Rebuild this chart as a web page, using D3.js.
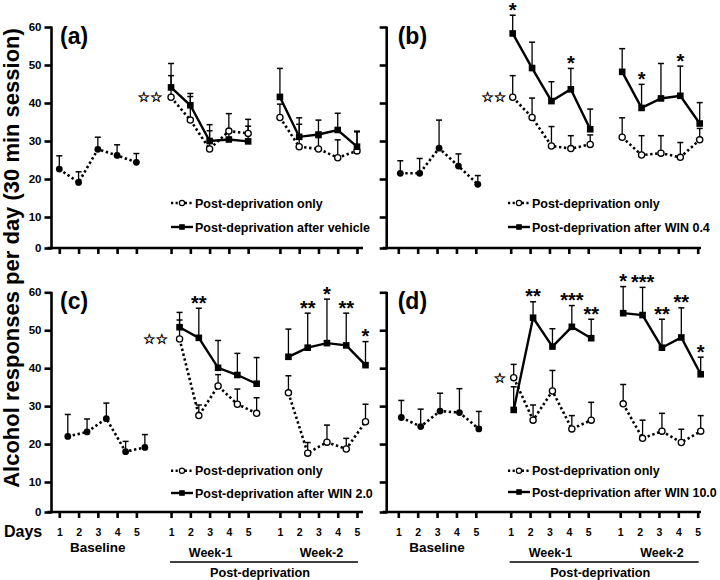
<!DOCTYPE html>
<html><head><meta charset="utf-8">
<script src="https://cdn.jsdelivr.net/npm/d3@7"></script>
<style>
body{margin:0;background:#fff}
svg{display:block}
text{font-family:"Liberation Sans",Arial,Helvetica,sans-serif;font-weight:bold;fill:#000}
</style>
</head><body>
<svg id="chart" width="720" height="580"></svg>
<script>
// ---------------- DATA ----------------
const days = [1, 2, 3, 4, 5];
const yTicks = [0, 10, 20, 30, 40, 50, 60];
const panelLabels = ["(a)", "(b)", "(c)", "(d)"];
const legendOnly = "Post-deprivation only";
const legendTreat = ["Post-deprivation after vehicle", "Post-deprivation after WIN 0.4",
                     "Post-deprivation after WIN 2.0", "Post-deprivation after WIN 10.0"];
const yTitle = "Alcohol responses per day (30 min session)";
const groupNames = ["Baseline", "Week-1", "Week-2"];
const periodName = "Post-deprivation";
const daysLabel = "Days";
const deprivationMarks = ["☆☆", "☆☆", "☆☆", "☆"];

// (a) vehicle
const baseA     = [22.6, 19.1, 27.8, 26.2, 24.4];
const baseAErr  = [3.5, 2.8, 3.2, 2.8, 2.3];
const onlyA1    = [41.5, 35.5, 27.9, 32.6, 32.0];
const onlyA1Err = [5.7, 6.2, 4.8, 4.6, 3.7];
const treatA1   = [44.1, 39.4, 30.0, 30.4, 29.9];
const treatA1Err= [6.3, 3.1, 4.3, 1.9, 4.0];
const onlyA2    = [36.2, 28.5, 27.9, 25.6, 27.4];
const onlyA2Err = [3.5, 5.9, 3.0, 4.7, 5.0];
const treatA2   = [41.6, 31.1, 31.7, 32.9, 28.5];
const treatA2Err= [7.5, 5.0, 3.8, 4.4, 4.1];
const sigA1 = ["", "", "", "", ""];
const sigA2 = ["", "", "", "", ""];

// (b) WIN 0.4
const baseB     = [21.5, 21.5, 28.1, 23.4, 18.6];
const baseBErr  = [3.3, 3.9, 7.4, 3.2, 2.3];
const onlyB1    = [41.5, 36.2, 28.7, 28.0, 29.1];
const onlyB1Err = [5.7, 5.1, 5.1, 3.4, 2.5];
const treatB1   = [58.3, 49.2, 40.5, 43.6, 33.1];
const treatB1Err= [4.8, 6.8, 5.1, 5.5, 5.3];
const onlyB2    = [31.0, 26.3, 26.8, 25.7, 30.3];
const onlyB2Err = [5.1, 5.1, 4.6, 3.9, 3.0];
const treatB2   = [48.2, 38.7, 41.2, 41.9, 34.6];
const treatB2Err= [6.1, 6.2, 9.2, 7.8, 5.5];
const sigB1 = ["*", "", "", "*", ""];
const sigB2 = ["", "*", "", "*", ""];

// (c) WIN 2.0
const baseC     = [22.0, 23.2, 26.7, 18.0, 19.1];
const baseCErr  = [5.8, 3.4, 4.1, 2.7, 3.4];
const onlyC1    = [47.7, 27.5, 35.3, 30.5, 28.1];
const onlyC1Err = [5.0, 2.8, 3.0, 4.0, 4.1];
const treatC1   = [50.8, 48.0, 40.1, 38.2, 35.9];
const treatC1Err= [3.9, 7.8, 7.2, 5.7, 6.9];
const onlyC2    = [33.5, 17.6, 20.5, 18.7, 25.9];
const onlyC2Err = [4.5, 2.8, 4.5, 2.8, 4.6];
const treatC2   = [43.0, 45.4, 46.6, 46.0, 40.8];
const treatC2Err= [7.3, 9.1, 11.6, 8.5, 6.2];
const sigC1 = ["", "**", "", "", ""];
const sigC2 = ["", "**", "*", "**", "*"];

// (d) WIN 10.0
const baseD     = [27.0, 24.6, 28.7, 28.3, 24.0];
const baseDErr  = [4.5, 4.6, 4.7, 6.3, 4.6];
const onlyD1    = [37.5, 26.3, 34.0, 24.0, 26.3];
const onlyD1Err = [3.5, 4.0, 5.4, 3.5, 4.7];
const treatD1   = [29.0, 53.3, 45.7, 50.9, 47.9];
const treatD1Err= [6.1, 4.2, 4.7, 5.6, 5.0];
const onlyD2    = [30.6, 21.5, 23.4, 20.4, 23.4];
const onlyD2Err = [5.1, 4.8, 4.7, 3.5, 4.1];
const treatD2   = [54.5, 54.0, 45.4, 48.1, 38.4];
const treatD2Err= [7.0, 7.3, 7.5, 7.8, 4.5];
const sigD1 = ["", "**", "", "***", "**"];
const sigD2 = ["*", "***", "**", "**", "*"];

// -------------- PANELS (built from arrays) --------------
const panelData = [
  {base: baseA, baseErr: baseAErr, only: [onlyA1, onlyA2], onlyErr: [onlyA1Err, onlyA2Err],
   treat: [treatA1, treatA2], treatErr: [treatA1Err, treatA2Err], sig: [sigA1, sigA2]},
  {base: baseB, baseErr: baseBErr, only: [onlyB1, onlyB2], onlyErr: [onlyB1Err, onlyB2Err],
   treat: [treatB1, treatB2], treatErr: [treatB1Err, treatB2Err], sig: [sigB1, sigB2]},
  {base: baseC, baseErr: baseCErr, only: [onlyC1, onlyC2], onlyErr: [onlyC1Err, onlyC2Err],
   treat: [treatC1, treatC2], treatErr: [treatC1Err, treatC2Err], sig: [sigC1, sigC2]},
  {base: baseD, baseErr: baseDErr, only: [onlyD1, onlyD2], onlyErr: [onlyD1Err, onlyD2Err],
   treat: [treatD1, treatD2], treatErr: [treatD1Err, treatD2Err], sig: [sigD1, sigD2]}
];

// -------------- LAYOUT --------------
const layouts = [
  {ax: 51.5, x0: 59.3, x1: 357, xEnd: 363, axisY: 248, y10: 217, y60: 27, off: 0,  yLab: true,  xLab: false, legX: 171, legY: [203, 227], starDx: -21},
  {ax: 386.7, x0: 398.3, x1: 697.7, xEnd: 701, axisY: 248, y10: 217, y60: 27, off: 2, yLab: false, xLab: false, legX: 508, legY: [203, 227], starDx: -19},
  {ax: 51.5, x0: 59.3, x1: 357, xEnd: 363, axisY: 512, y10: 482, y60: 292.3, off: 8.5, yLab: true, xLab: true, legX: 171, legY: [470.7, 493], starDx: -24},
  {ax: 386.7, x0: 398.3, x1: 697.7, xEnd: 701, axisY: 512, y10: 482, y60: 292.3, off: 3, yLab: false, xLab: true, legX: 508, legY: [470.7, 492], starDx: -14}
];
const groupStart = [0, 5.8, 11.45];
const slotMax = 15.45;

const svg = d3.select("#chart");
const AXW = 2.6;

function drawPanel(pi) {
  const P = panelData[pi], L = layouts[pi];
  const g = svg.append("g");
  const x = d3.scaleLinear().domain([0, slotMax]).range([L.x0, L.x1]);
  const y = d3.scaleLinear().domain([0, 10, 60]).range([L.axisY, L.y10, L.y60]);
  const px = (gi, i) => x(groupStart[gi] + i) + L.off;

  // Y axis
  const yAxis = d3.axisLeft(y).tickValues(yTicks).tickSize(7).tickSizeOuter(0).tickPadding(3)
    .tickFormat(L.yLab ? d3.format("d") : () => "");
  const ya = g.append("g").attr("transform", `translate(${L.ax},0)`).call(yAxis);
  ya.select(".domain").attr("stroke", "#000").attr("stroke-width", AXW).attr("d", `M0,${L.axisY + AXW/2}V${L.y60 - 0.5}`);
  ya.selectAll(".tick line").attr("stroke", "#000").attr("stroke-width", AXW);
  ya.selectAll(".tick text").attr("font-size", 11.5).attr("font-family", '"Liberation Sans",Arial,sans-serif').attr("font-weight", "bold");

  // X axis
  const slots = [];
  groupStart.forEach(s => days.forEach((d, i) => slots.push({v: s + i, d})));
  const xAxis = d3.axisBottom(x).tickValues(slots.map(s => s.v)).tickSize(6).tickSizeOuter(0).tickPadding(10.5)
    .tickFormat(L.xLab ? ((v, i) => slots[i].d) : () => "");
  const xa = g.append("g").attr("transform", `translate(0,${L.axisY})`).call(xAxis);
  xa.select(".domain").remove();
  xa.selectAll(".tick line").attr("stroke", "#000").attr("stroke-width", AXW);
  xa.selectAll(".tick text").attr("font-size", 10.5).attr("font-family", '"Liberation Sans",Arial,sans-serif').attr("font-weight", "bold");
  g.append("line").attr("x1", L.ax - 4).attr("x2", L.xEnd).attr("y1", L.axisY).attr("y2", L.axisY)
    .attr("stroke", "#000").attr("stroke-width", AXW);

  // series
  const series = [];
  series.push({type: "base", g: 0, vals: P.base, err: P.baseErr});
  [0, 1].forEach(k => {
    series.push({type: "only", g: k + 1, vals: P.only[k], err: P.onlyErr[k]});
    series.push({type: "treat", g: k + 1, vals: P.treat[k], err: P.treatErr[k], sig: P.sig[k]});
  });

  const capW = 3;
  // error bars
  series.forEach(s => {
    s.vals.forEach((v, i) => {
      const cx = px(s.g, i), top = y(v + s.err[i]);
      g.append("line").attr("x1", cx).attr("x2", cx).attr("y1", y(v)).attr("y2", top)
        .attr("stroke", "#000").attr("stroke-width", 1.3);
      g.append("line").attr("x1", cx - capW).attr("x2", cx + capW).attr("y1", top).attr("y2", top)
        .attr("stroke", "#000").attr("stroke-width", 1.5);
    });
  });
  // lines
  const line = d3.line().x(d => d[0]).y(d => d[1]);
  series.forEach(s => {
    const pts = s.vals.map((v, i) => [px(s.g, i), y(v)]);
    const path = g.append("path").attr("d", line(pts)).attr("fill", "none").attr("stroke", "#000");
    if (s.type === "treat") path.attr("stroke-width", 2.4);
    else path.attr("stroke-width", 2.6).attr("stroke-dasharray", "2.4,2.6");
  });
  // markers
  series.filter(s => s.type !== "treat").forEach(s => {
    s.vals.forEach((v, i) => {
      const c = g.append("circle").attr("cx", px(s.g, i)).attr("cy", y(v));
      if (s.type === "base") c.attr("r", 3.4).attr("fill", "#000");
      else c.attr("r", 3.1).attr("fill", "#fff").attr("stroke", "#000").attr("stroke-width", 1.3);
    });
  });
  series.filter(s => s.type === "treat").forEach(s => {
    s.vals.forEach((v, i) => {
      g.append("rect").attr("x", px(s.g, i) - 3.3).attr("y", y(v) - 3.3).attr("width", 6.6).attr("height", 6.6).attr("fill", "#000");
    });
    // significance asterisks
    s.sig.forEach((t, i) => {
      if (!t) return;
      g.append("text").attr("x", px(s.g, i)).attr("y", y(s.vals[i] + s.err[i]) + 1.5)
        .attr("text-anchor", "middle").attr("font-size", 20).text(t);
    });
  });

  // deprivation stars
  g.append("text").attr("x", px(1, 0) + L.starDx).attr("y", y(P.only[0][0]) + 5)
    .attr("text-anchor", "middle").attr("font-size", 14)
    .style("font-family", '"DejaVu Sans",sans-serif').style("font-weight", "normal")
    .attr("stroke", "#000").attr("stroke-width", 0.45)
    .text(deprivationMarks[pi]);

  // panel label
  g.append("text").attr("x", L.ax + (pi % 2 ? 11 : 8.5)).attr("y", L.y60 + 16.5).attr("font-size", 23).text(panelLabels[pi]);

  // legend
  const lx = L.legX, lw = 22;
  const l1 = L.legY[0], l2 = L.legY[1];
  g.append("line").attr("x1", lx).attr("x2", lx + lw).attr("y1", l1).attr("y2", l1)
    .attr("stroke", "#000").attr("stroke-width", 2.4).attr("stroke-dasharray", "2.2,2.4");
  g.append("circle").attr("cx", lx + lw / 2).attr("cy", l1).attr("r", 2.6)
    .attr("fill", "#fff").attr("stroke", "#000").attr("stroke-width", 1.2);
  g.append("text").attr("x", lx + 24).attr("y", l1 + 4.6).attr("font-size", 12.5).text(legendOnly);
  g.append("line").attr("x1", lx).attr("x2", lx + lw).attr("y1", l2).attr("y2", l2)
    .attr("stroke", "#000").attr("stroke-width", 2.4);
  g.append("rect").attr("x", lx + lw / 2 - 2.8).attr("y", l2 - 2.8).attr("width", 5.6).attr("height", 5.6).attr("fill", "#000");
  g.append("text").attr("x", lx + 24).attr("y", l2 + 4.6).attr("font-size", 12.5).text(legendTreat[pi]);

  // bottom group labels
  if (L.xLab) {
    if (pi === 2) g.append("text").attr("x", 4).attr("y", 536.5).attr("font-size", 16).text(daysLabel);
    g.append("text").attr("x", x(groupStart[0] + 2)).attr("y", 551.5).attr("text-anchor", "middle").attr("font-size", 13.5).text(groupNames[0]);
    g.append("text").attr("x", x(groupStart[1] + 2) + 1).attr("y", 557).attr("text-anchor", "middle").attr("font-size", 12.5).text(groupNames[1]);
    g.append("text").attr("x", x(groupStart[2] + 2) + 3).attr("y", 557).attr("text-anchor", "middle").attr("font-size", 12.5).text(groupNames[2]);
    const lx1 = x(groupStart[1]) - 1, lx2 = x(slotMax) + 1;
    g.append("line").attr("x1", lx1).attr("x2", lx2).attr("y1", 562).attr("y2", 562).attr("stroke", "#000").attr("stroke-width", 1.6);
    g.append("text").attr("x", (lx1 + lx2) / 2 - 4).attr("y", 577).attr("text-anchor", "middle").attr("font-size", 12.7).text(periodName);
  }
}

[0, 1, 2, 3].forEach(drawPanel);

// Y title
svg.append("text").attr("transform", "translate(18.5,258) rotate(-90)").attr("text-anchor", "middle")
  .attr("font-size", 22).text(yTitle);
</script>
</body></html>
